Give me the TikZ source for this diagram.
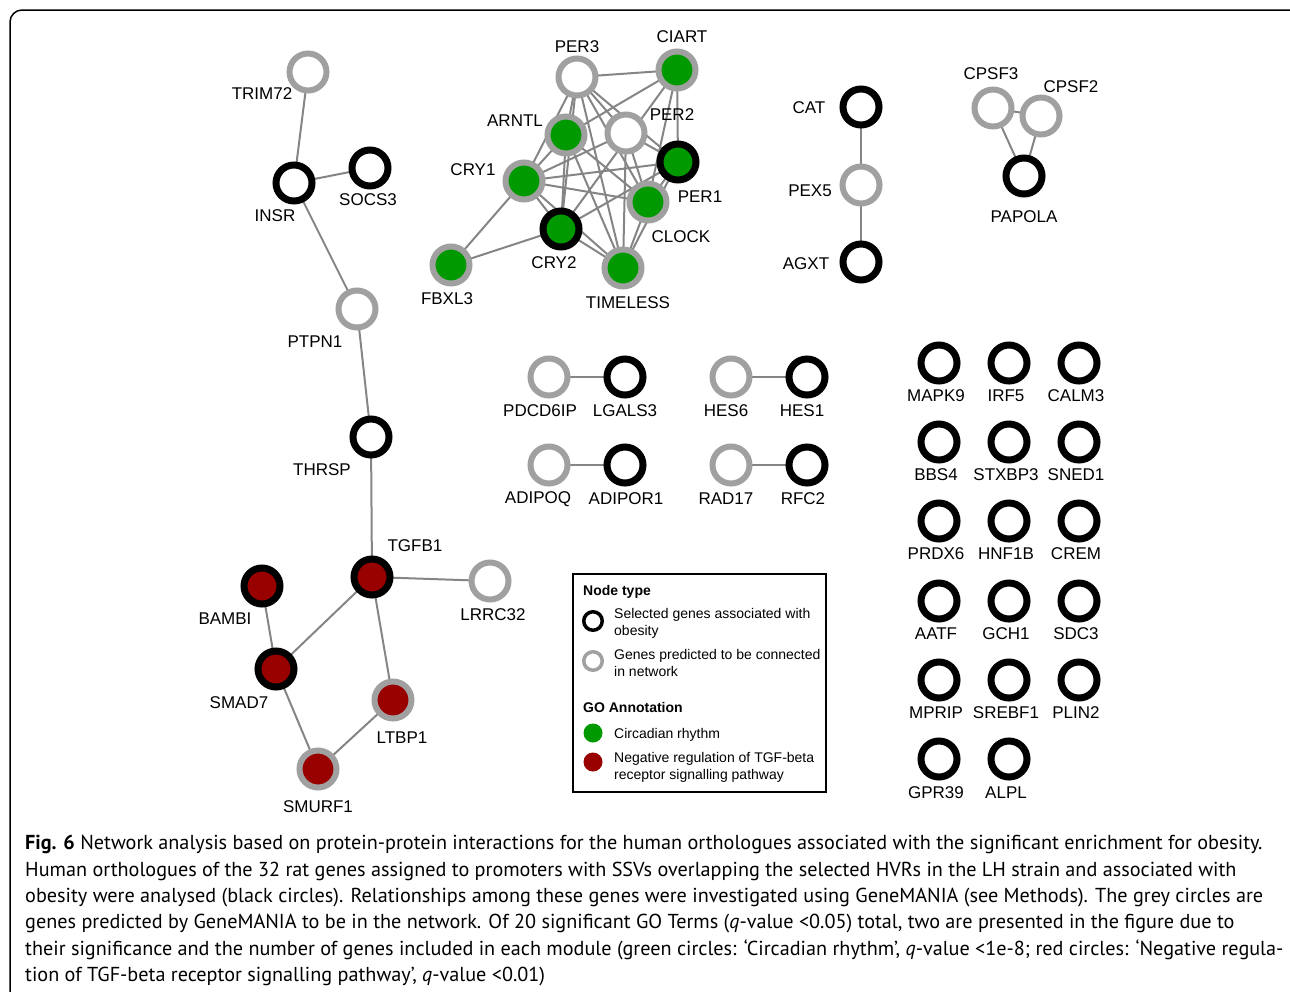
\documentclass[tikz,border=0pt]{standalone}
\usepackage{fontspec}
\setmainfont{Liberation Sans}
\newfontfamily\capfont{PT Sans}
\usetikzlibrary{backgrounds}

\definecolor{Green}{HTML}{009900}
\definecolor{Red}{HTML}{990000}
\definecolor{Grey}{HTML}{A0A0A0}
\definecolor{LinkGrey}{HTML}{858585}

\tikzstyle{Obese} = [circle, 
                     draw=black, 
                     line width=7pt, 
                     fill=white, 
                     minimum size=36pt, 
                     inner sep=0pt]
\tikzstyle{Predicted} = [circle, 
                         draw=Grey, 
                         line width=6pt, 
                         fill=white, 
                         minimum size=37pt, 
                         inner sep=0pt]
\tikzstyle{Circadian} = [fill=Green]
\tikzstyle{TGF} = [fill=Red]
\tikzstyle{Gene} = [font=\fontsize{17}{20}\selectfont, inner sep=0pt, yshift=-1pt]
\tikzstyle{Link} = [draw=LinkGrey, line width=2pt]
\tikzstyle{Key} = [font=\fontsize{14}{17}\selectfont, 
                   align=left, 
                   anchor=west, 
                   inner sep=0pt, 
                   yshift=-2pt]

\begin{document}
\begin{tikzpicture}[x=1pt, y=-1pt]

	\useasboundingbox (0,0) rectangle (1290,991);
	\clip (0,0) rectangle (1290,991);
	\draw [rounded corners=12pt, line width=1.5pt] (10,10) rectangle (1310,1020);

	% Insulin / TGF-beta chain
	\node (TRIM72) at (308,72) [Predicted]{};
	\node (INSR) at (294,183) [Obese]{};
	\node (SOCS3) at (370,168) [Obese]{};
	\node (PTPN1) at (357,309) [Predicted]{};
	\node (THRSP) at (371,437) [Obese]{};
	\node (TGFB1) at (372,577) [Obese, TGF]{};
	\node (LRRC32) at (490,581) [Predicted]{};
	\node (BAMBI) at (262,586) [Obese, TGF]{};
	\node (SMAD7) at (276,669) [Obese, TGF]{};
	\node (LTBP1) at (393,700) [Predicted, TGF]{};
	\node (SMURF1) at (318,769) [Predicted, TGF]{};

	\node (TRIM72-l) at (262,93) [Gene]{TRIM72};
	\node (INSR-l) at (275,215) [Gene]{INSR};
	\node (SOCS3-l) at (368,199) [Gene]{SOCS3};
	\node (PTPN1-l) at (315,341) [Gene]{PTPN1};
	\node (THRSP-l) at (322,469) [Gene]{THRSP};
	\node (TGFB1-l) at (415,545) [Gene]{TGFB1};
	\node (LRRC32-l) at (493,614) [Gene]{LRRC32};
	\node (BAMBI-l) at (225,618) [Gene]{BAMBI};
	\node (SMAD7-l) at (239,702) [Gene]{SMAD7};
	\node (LTBP1-l) at (402,737) [Gene]{LTBP1};
	\node (SMURF1-l) at (318,806) [Gene]{SMURF1};

	% Circadian module
	\node (PER3) at (577,77) [Predicted]{};
	\node (CIART) at (677,70) [Predicted, Circadian]{};
	\node (ARNTL) at (566,135) [Predicted, Circadian]{};
	\node (PER2) at (626,133) [Predicted]{};
	\node (PER1) at (678,162) [Obese, Circadian]{};
	\node (CRY1) at (524,181) [Predicted, Circadian]{};
	\node (CLOCK) at (648,202) [Predicted, Circadian]{};
	\node (CRY2) at (561,229) [Obese, Circadian]{};
	\node (FBXL3) at (451,265) [Predicted, Circadian]{};
	\node (TIMELESS) at (623,268) [Predicted, Circadian]{};

	\node (PER3-l) at (577,46) [Gene]{PER3};
	\node (CIART-l) at (682,36) [Gene]{CIART};
	\node (ARNTL-l) at (515,120) [Gene]{ARNTL};
	\node (PER2-l) at (672,114) [Gene]{PER2};
	\node (PER1-l) at (700,196) [Gene]{PER1};
	\node (CRY1-l) at (473,169) [Gene]{CRY1};
	\node (CLOCK-l) at (681,236) [Gene]{CLOCK};
	\node (CRY2-l) at (554,262) [Gene]{CRY2};
	\node (FBXL3-l) at (447,298) [Gene]{FBXL3};
	\node (TIMELESS-l) at (628,302) [Gene]{TIMELESS};

	% Small groups
	\node (CAT) at (861,107) [Obese]{};
	\node (PEX5) at (861,185) [Predicted]{};
	\node (AGXT) at (861,262) [Obese]{};
	\node (CPSF3) at (993,108) [Predicted]{};
	\node (CPSF2) at (1041,116) [Predicted]{};
	\node (PAPOLA) at (1024,176) [Obese]{};

	\node (CAT-l) at (809,107) [Gene]{CAT};
	\node (PEX5-l) at (810,190) [Gene]{PEX5};
	\node (AGXT-l) at (806,263) [Gene]{AGXT};
	\node (CPSF3-l) at (991,73) [Gene]{CPSF3};
	\node (CPSF2-l) at (1071,86) [Gene]{CPSF2};
	\node (PAPOLA-l) at (1024,216) [Gene]{PAPOLA};

	% Pairs
	\node (PDCD6IP) at (549,377) [Predicted]{};
	\node (LGALS3) at (625,377) [Obese]{};
	\node (HES6) at (731,377) [Predicted]{};
	\node (HES1) at (807,377) [Obese]{};
	\node (ADIPOQ) at (549,465) [Predicted]{};
	\node (ADIPOR1) at (625,465) [Obese]{};
	\node (RAD17) at (731,465) [Predicted]{};
	\node (RFC2) at (807,465) [Obese]{};

	\node (PDCD6IP-l) at (540,410) [Gene]{PDCD6IP};
	\node (LGALS3-l) at (625,410) [Gene]{LGALS3};
	\node (HES6-l) at (726,410) [Gene]{HES6};
	\node (HES1-l) at (802,410) [Gene]{HES1};
	\node (ADIPOQ-l) at (538,498) [Gene]{ADIPOQ};
	\node (ADIPOR1-l) at (626,498) [Gene]{ADIPOR1};
	\node (RAD17-l) at (726,498) [Gene]{RAD17};
	\node (RFC2-l) at (803,498) [Gene]{RFC2};

	% Unconnected genes
	\node (MAPK9) at (939,363) [Obese]{};
	\node (IRF5) at (1009,363) [Obese]{};
	\node (CALM3) at (1079,363) [Obese]{};
	\node (BBS4) at (939,442) [Obese]{};
	\node (STXBP3) at (1009,442) [Obese]{};
	\node (SNED1) at (1079,442) [Obese]{};
	\node (PRDX6) at (939,521) [Obese]{};
	\node (HNF1B) at (1009,521) [Obese]{};
	\node (CREM) at (1079,521) [Obese]{};
	\node (AATF) at (939,601) [Obese]{};
	\node (GCH1) at (1009,601) [Obese]{};
	\node (SDC3) at (1079,601) [Obese]{};
	\node (MPRIP) at (939,680) [Obese]{};
	\node (SREBF1) at (1009,680) [Obese]{};
	\node (PLIN2) at (1079,680) [Obese]{};
	\node (GPR39) at (939,759) [Obese]{};
	\node (ALPL) at (1009,759) [Obese]{};

	\node (MAPK9-l) at (936,395) [Gene]{MAPK9};
	\node (IRF5-l) at (1006,395) [Gene]{IRF5};
	\node (CALM3-l) at (1076,395) [Gene]{CALM3};
	\node (BBS4-l) at (936,474) [Gene]{BBS4};
	\node (STXBP3-l) at (1006,474) [Gene]{STXBP3};
	\node (SNED1-l) at (1076,474) [Gene]{SNED1};
	\node (PRDX6-l) at (936,553) [Gene]{PRDX6};
	\node (HNF1B-l) at (1006,553) [Gene]{HNF1B};
	\node (CREM-l) at (1076,553) [Gene]{CREM};
	\node (AATF-l) at (936,633) [Gene]{AATF};
	\node (GCH1-l) at (1006,633) [Gene]{GCH1};
	\node (SDC3-l) at (1076,633) [Gene]{SDC3};
	\node (MPRIP-l) at (936,712) [Gene]{MPRIP};
	\node (SREBF1-l) at (1006,712) [Gene]{SREBF1};
	\node (PLIN2-l) at (1076,712) [Gene]{PLIN2};
	\node (GPR39-l) at (936,792) [Gene]{GPR39};
	\node (ALPL-l) at (1006,792) [Gene]{ALPL};

	% Lines
	\begin{scope}[on background layer]
	\draw [Link] (TRIM72.center) -- (INSR.center);
	\draw [Link] (INSR.center) -- (SOCS3.center);
	\draw [Link] (INSR.center) -- (PTPN1.center);
	\draw [Link] (PTPN1.center) -- (THRSP.center);
	\draw [Link] (THRSP.center) -- (TGFB1.center);
	\draw [Link] (TGFB1.center) -- (LRRC32.center);
	\draw [Link] (TGFB1.center) -- (SMAD7.center);
	\draw [Link] (TGFB1.center) -- (LTBP1.center);
	\draw [Link] (BAMBI.center) -- (SMAD7.center);
	\draw [Link] (SMAD7.center) -- (SMURF1.center);
	\draw [Link] (SMURF1.center) -- (LTBP1.center);

	\draw [Link] (PER3.center) -- (CIART.center);
	\draw [Link] (PER3.center) -- (ARNTL.center);
	\draw [Link] (PER3.center) -- (CRY1.center);
	\draw [Link] (PER3.center) -- (CRY2.center);
	\draw [Link] (PER3.center) -- (PER2.center);
	\draw [Link] (PER3.center) -- (CLOCK.center);
	\draw [Link] (PER3.center) -- (PER1.center);
	\draw [Link] (PER3.center) -- (TIMELESS.center);
	\draw [Link] (CIART.center) -- (ARNTL.center);
	\draw [Link] (CIART.center) -- (CRY2.center);
	\draw [Link] (CIART.center) -- (PER1.center);
	\draw [Link] (CIART.center) -- (CLOCK.center);
	\draw [Link] (ARNTL.center) -- (CRY1.center);
	\draw [Link] (ARNTL.center) -- (CRY2.center);
	\draw [Link] (ARNTL.center) -- (CLOCK.center);
	\draw [Link] (ARNTL.center) -- (TIMELESS.center);
	\draw [Link] (PER2.center) -- (CRY1.center);
	\draw [Link] (PER2.center) -- (CLOCK.center);
	\draw [Link] (PER2.center) -- (PER1.center);
	\draw [Link] (PER2.center) -- (TIMELESS.center);
	\draw [Link] (CRY1.center) -- (PER1.center);
	\draw [Link] (CRY1.center) -- (CLOCK.center);
	\draw [Link] (CRY1.center) -- (CRY2.center);
	\draw [Link] (CRY1.center) -- (FBXL3.center);
	\draw [Link] (CRY1.center) -- (TIMELESS.center);
	\draw [Link] (CRY2.center) -- (FBXL3.center);
	\draw [Link] (CRY2.center) -- (TIMELESS.center);
	\draw [Link] (CRY2.center) -- (PER1.center);
	\draw [Link] (CLOCK.center) -- (TIMELESS.center);
	\draw [Link] (PER1.center) -- (TIMELESS.center);
	\draw [Link] (PER1.center) -- (CLOCK.center);

	\draw [Link] (CAT.center) -- (PEX5.center);
	\draw [Link] (PEX5.center) -- (AGXT.center);
	\draw [Link] (CPSF3.center) -- (CPSF2.center);
	\draw [Link] (CPSF3.center) -- (PAPOLA.center);
	\draw [Link] (CPSF2.center) -- (PAPOLA.center);

	\draw [Link] (PDCD6IP.center) -- (LGALS3.center);
	\draw [Link] (HES6.center) -- (HES1.center);
	\draw [Link] (ADIPOQ.center) -- (ADIPOR1.center);
	\draw [Link] (RAD17.center) -- (RFC2.center);
	\end{scope}

	% Legend
	\node (Legend) at (699.5,683) [draw, line width=1.3pt, minimum width=253pt, minimum height=218pt]{};
	\node (NodeType) at (583,590) [Key]{\textbf{Node type}};
	\node (KeyObese) at (593,621) [circle, draw=black, line width=3.5pt, minimum size=18.5pt, inner sep=0pt]{};
	\node (KeyObese-t) at (614,621.5) [Key]{Selected genes associated with\\obesity};
	\node (KeyPred) at (593,661) [circle, draw=Grey, line width=3.5pt, minimum size=18.5pt, inner sep=0pt]{};
	\node (KeyPred-t) at (614,660.5) [Key]{Genes predicted to be connected\\in network};
	\node (GOAnno) at (583,705) [Key]{\textbf{GO Annotation}};
	\node (KeyCirc) at (593,733) [circle, fill=Green, minimum size=19pt, inner sep=0pt]{};
	\node (KeyCirc-t) at (614,733) [Key]{Circadian rhythm};
	\node (KeyTGF) at (593,762) [circle, fill=Red, minimum size=19pt, inner sep=0pt]{};
	\node (KeyTGF-t) at (614,765.5) [Key]{Negative regulation of TGF-beta\\receptor signalling pathway};

	% Caption
	\node (Caption) at (25,835) [anchor=north west, align=left, inner sep=0pt, font=\capfont\fontsize{20.2}{26.4}\selectfont]{\textbf{Fig. 6} Network analysis based on protein-protein interactions for the human orthologues associated with the significant enrichment for obesity.\\
Human orthologues of the 32 rat genes assigned to promoters with SSVs overlapping the selected HVRs in the LH strain and associated with\\
obesity were analysed (black circles). Relationships among these genes were investigated using GeneMANIA (see Methods). The grey circles are\\
genes predicted by GeneMANIA to be in the network. Of 20 significant GO Terms (\textit{q}-value <0.05) total, two are presented in the figure due to\\
their significance and the number of genes included in each module (green circles: ‘Circadian rhythm’, \textit{q}-value <1e-8; red circles: ‘Negative regula-\\
tion of TGF-beta receptor signalling pathway’, \textit{q}-value <0.01)};

\end{tikzpicture}
\end{document}
